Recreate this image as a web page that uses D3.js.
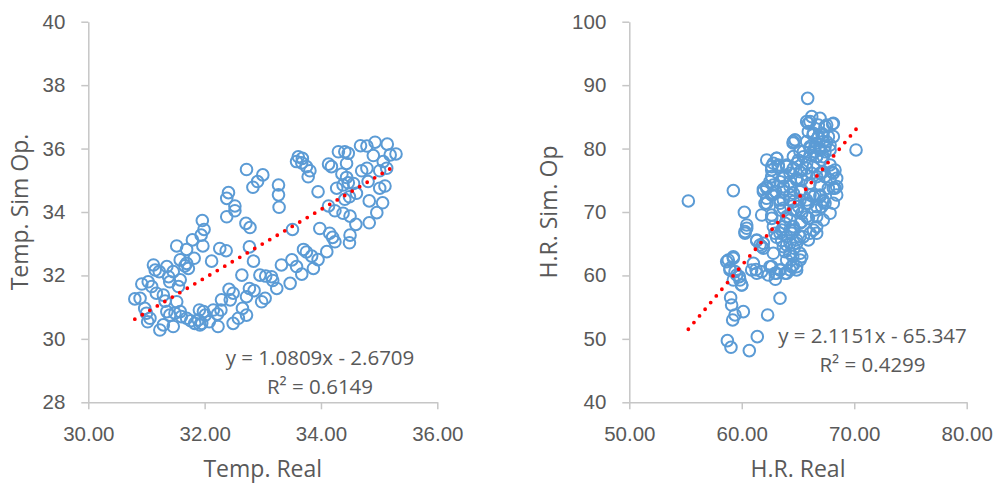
<!DOCTYPE html>
<html>
<head>
<meta charset="utf-8">
<script src="https://cdn.jsdelivr.net/npm/d3@7"></script>
<style>
  html, body { margin: 0; padding: 0; background: #fff; }
  svg { display: block; font-family: "Open Sans", sans-serif; }
  .tick text { fill: #595959; font-size: 20.5px; }
  .axis line, .axis path { stroke: #c6c6c6; stroke-width: 1.5px; }
  .title { fill: #595959; font-size: 23px; }
  .eq { fill: #595959; font-size: 20.5px; }
</style>
</head>
<body>
<svg id="chart" width="993" height="485"></svg>
<script>
// Temperature: measured vs. simulated (°C)
const tempReal = [30.80,30.89,30.92,31.03,31.09,31.12,31.15,31.22,31.35,31.38,31.46,31.40,31.58,31.55,31.52,31.69,31.72,31.66,31.79,31.82,
  31.17,31.29,31.32,31.52,30.97,31.00,31.06,31.02,31.23,31.29,31.46,31.40,31.35,31.58,31.49,31.60,31.69,31.76,31.83,31.89,
  31.95,31.92,32.01,31.91,31.98,32.15,32.22,32.28,32.23,32.08,32.29,32.44,32.49,32.42,32.49,32.58,32.72,32.65,32.72,32.77,
  32.85,32.64,32.98,33.04,32.95,33.05,33.15,33.17,33.24,33.47,33.32,33.50,33.58,33.67,33.70,33.75,33.84,33.87,33.95,33.98,
  34.10,34.15,34.20,34.24,34.50,34.49,34.60,34.83,34.96,34.83,35.06,35.01,35.10,34.81,34.50,34.38,34.24,34.13,33.95,34.27,
  34.38,34.47,34.56,34.61,34.49,34.41,34.36,34.44,34.70,34.79,34.13,34.18,34.30,34.41,34.47,34.68,34.79,34.93,35.14,35.29,
  35.19,34.90,35.07,35.13,35.01,33.61,33.68,33.58,33.67,33.75,33.78,33.81,33.27,33.27,33.28,32.72,33.00,32.91,32.83,32.41,
  32.38,32.52,32.52,32.38,32.71,32.78,32.77,32.84,32.26,32.37,32.12,31.96,31.99,31.94,31.97,31.69,31.58,34.44,33.51];
const tempSim = [31.26,31.28,31.73,31.80,31.65,32.33,32.17,32.12,32.28,31.96,32.12,31.80,31.86,31.65,32.93,32.38,32.22,32.30,33.12,32.54,
  31.44,31.38,31.19,31.17,30.96,30.81,30.65,30.54,30.28,30.44,30.39,30.75,30.86,30.86,30.81,30.70,30.65,30.57,30.49,30.60,
  30.49,30.44,30.75,30.91,30.86,30.91,30.78,30.91,30.39,30.54,31.23,31.23,31.44,31.56,30.49,30.65,30.75,30.96,31.33,31.59,
  31.52,32.01,31.17,31.28,32.01,31.98,31.96,31.84,31.59,31.75,32.33,32.49,32.28,32.04,32.82,32.74,32.61,32.22,32.50,33.48,
  32.75,33.33,33.20,33.06,33.27,33.03,33.61,33.66,33.98,34.35,34.29,34.75,34.82,34.96,33.87,33.96,34.04,34.19,34.64,34.75,
  34.85,34.92,34.90,34.59,34.48,34.40,35.20,35.09,35.30,35.38,35.51,35.43,35.90,35.90,35.85,36.09,36.08,36.20,36.14,35.83,
  35.80,35.78,35.59,35.38,35.30,35.74,35.69,35.59,35.55,35.43,35.11,35.30,34.85,34.54,34.15,35.34,35.17,34.96,34.78,34.61,
  34.43,34.19,34.04,33.85,33.64,33.51,32.90,32.45,32.85,32.78,32.45,33.73,33.45,33.27,32.93,32.82,32.49,35.53,33.45];

// Relative humidity: measured vs. simulated (%)
const hrReal = [55.25,59.25,60.23,60.44,60.29,61.33,61.77,61.92,61.77,62.07,62.22,61.92,62.22,62.51,62.66,63.10,62.81,63.25,63.00,63.70,
  63.40,63.70,62.66,62.81,62.96,63.10,63.55,63.99,63.85,64.29,63.99,64.65,58.66,59.25,58.95,59.40,59.78,60.00,61.03,61.27,
  62.36,62.66,63.10,62.99,63.40,63.99,64.44,64.88,63.40,59.01,59.10,59.40,59.19,60.14,62.30,61.38,58.72,59.04,60.67,70.16,
  65.86,66.22,65.92,66.96,68.08,67.40,66.37,66.81,67.11,67.70,64.59,64.74,65.77,66.51,66.96,67.40,66.07,66.66,67.25,64.59,
  64.88,65.33,63.99,64.29,64.88,65.77,66.37,67.85,68.14,67.85,68.29,67.70,66.96,66.07,65.33,64.59,64.29,66.96,67.40,66.66,
  65.92,65.18,64.59,65.33,65.92,66.66,65.33,64.59,66.37,66.66,65.92,65.18,64.44,64.88,65.33,65.18,64.88,64.29,63.99,63.85,
  66.96,67.40,68.44,65.48,66.07,66.66,67.25,65.77,65.33,66.51,65.04,64.29,63.70,63.55,64.53,62.66,65.92,67.85,68.14,66.81,68.29,
  68.14,67.55,66.07,65.77,64.73,64.56,66.34,66.78,67.23,67.55,67.85,66.07,66.51,66.96,67.40,66.66,67.10,65.18,65.48,65.03,
  63.11,62.66,63.25,64.00,64.59,65.18,65.77,66.22,66.66,67.25,67.99,68.44,63.70,64.29,64.88,63.40,62.81,62.22,61.92,62.66,
  63.70,64.29,65.18,66.07,66.96,68.14,68.44,62.22,63.40,64.59,65.77,67.25,60.44,60.29,61.33,61.62,61.92,58.80,59.25,58.95,
  59.55,59.84,59.99,59.25,60.88,61.33,61.77,62.51,62.96,63.40,63.85,64.29,64.59,65.18,62.81,63.70,64.29,64.88,65.48,66.07,
  66.66,67.25,67.85,68.14,67.25,66.36,65.77,64.88,64.29,63.70,63.40,64.00,64.58,65.18,65.77,66.51,67.11,62.81,63.70,62.22,
  63.40,62.66];
const hrSim = [71.74,73.37,69.95,67.43,66.64,65.49,64.54,65.07,69.53,71.37,78.20,73.58,74.00,74.79,75.58,78.47,77.68,77.15,73.21,74.00,
  71.37,70.58,69.00,67.69,66.64,66.01,67.17,64.80,63.75,63.49,62.44,64.28,62.18,62.70,61.12,60.60,59.81,58.50,61.91,60.91,
  60.07,61.39,60.34,59.39,60.86,60.34,61.39,60.86,56.40,56.50,55.34,53.77,52.98,54.29,53.77,50.35,49.72,48.67,48.15,79.78,
  87.92,85.03,83.98,84.77,83.88,83.46,82.41,81.88,82.41,81.88,81.09,81.36,81.09,80.30,79.78,80.30,78.99,78.73,78.73,78.73,
  77.68,76.63,77.15,76.10,75.05,75.84,77.15,77.42,76.10,75.05,73.74,73.74,74.26,74.53,73.47,72.95,74.00,72.42,71.37,70.85,
  71.37,71.90,70.32,69.79,69.00,69.27,68.48,67.69,67.17,66.64,65.59,66.12,66.64,65.07,62.96,63.49,61.39,67.17,69.27,68.22,
  76.10,75.58,74.00,79.52,80.30,80.83,81.09,77.68,75.05,72.69,70.85,71.90,75.31,65.49,62.96,76.63,82.67,79.78,81.88,83.72,76.63,
  83.99,83.72,84.24,84.24,81.35,80.87,82.14,81.67,82.14,81.08,80.56,80.04,79.51,80.04,79.51,78.72,78.20,79.51,78.72,78.20,
  78.47,77.15,77.41,77.41,76.89,76.35,76.89,76.10,75.57,76.35,76.35,75.31,75.57,74.78,75.31,74.78,74.26,73.74,73.20,72.68,
  73.20,72.68,73.20,72.68,72.68,73.74,72.68,72.16,71.89,71.63,71.89,71.63,67.95,66.90,65.59,64.80,64.28,62.43,62.95,60.86,
  60.07,59.28,58.49,59.28,60.86,60.34,60.59,61.38,60.34,60.86,60.34,60.86,61.65,62.44,63.49,64.53,65.07,65.59,66.11,66.64,
  67.68,68.74,69.80,71.37,71.89,72.41,71.37,70.32,68.74,67.68,66.64,66.11,67.16,68.22,69.26,70.32,70.84,72.95,71.89,71.37,
  70.32,69.53];

// Linear fit coefficients and goodness of fit, as printed on each panel
const tempFit = { slope: 1.0809, intercept: -2.6709, r2: 0.6149 };
const hrFit = { slope: 2.1151, intercept: -65.347, r2: 0.4299 };

const tempXTicks = [30, 32, 34, 36];
const tempYTicks = [28, 30, 32, 34, 36, 38, 40];
const hrXTicks = [50, 60, 70, 80];
const hrYTicks = [40, 50, 60, 70, 80, 90, 100];

const svg = d3.select("#chart");

function fmtEq(fit) {
  const sign = fit.intercept < 0 ? " - " : " + ";
  return "y = " + fit.slope.toFixed(4) + "x" + sign + String(Math.abs(fit.intercept));
}

function panel(cfg) {
  const x = d3.scaleLinear().domain(cfg.xDomain).range([cfg.left, cfg.right]);
  const y = d3.scaleLinear().domain(cfg.yDomain).range([cfg.bottom, cfg.top]);
  const g = svg.append("g");

  g.append("g").attr("class", "axis")
    .attr("transform", `translate(0,${cfg.bottom})`)
    .call(d3.axisBottom(x).tickValues(cfg.xTicks).tickFormat(d3.format(".2f"))
      .tickSize(7).tickSizeOuter(0).tickPadding(17.4));

  g.append("g").attr("class", "axis")
    .attr("transform", `translate(${cfg.left},0)`)
    .call(d3.axisLeft(y).tickValues(cfg.yTicks).tickFormat(d3.format("d"))
      .tickSize(7).tickSizeOuter(0).tickPadding(16));

  // data markers: hollow circles
  g.append("g").selectAll("circle")
    .data(cfg.xs.map((v, i) => [v, cfg.ys[i]]))
    .join("circle")
    .attr("cx", d => x(d[0]))
    .attr("cy", d => y(d[1]))
    .attr("r", 5.8)
    .attr("fill", "none")
    .attr("stroke", "#5b9bd5")
    .attr("stroke-width", 2);

  // linear trendline over the span of the data
  const [x0, x1] = d3.extent(cfg.xs);
  const f = v => cfg.fit.slope * v + cfg.fit.intercept;
  g.append("line")
    .attr("x1", x(x0)).attr("y1", y(f(x0)))
    .attr("x2", x(x1)).attr("y2", y(f(x1)))
    .attr("stroke", "#ff0000")
    .attr("stroke-width", 3.8)
    .attr("stroke-linecap", "round")
    .attr("stroke-dasharray", "0 8.7");

  g.append("text").attr("class", "eq")
    .attr("x", cfg.eqX).attr("y", cfg.eqY)
    .attr("text-anchor", "middle")
    .text(fmtEq(cfg.fit));
  g.append("text").attr("class", "eq")
    .attr("x", cfg.eqX).attr("y", cfg.eqY + 29.5)
    .attr("text-anchor", "middle")
    .text("R² = " + cfg.fit.r2.toFixed(4));

  g.append("text").attr("class", "title")
    .attr("x", (cfg.left + cfg.right) / 2).attr("y", 477)
    .attr("text-anchor", "middle")
    .text(cfg.xTitle);
  g.append("text").attr("class", "title")
    .attr("transform", `translate(${cfg.yTitleX},${(cfg.top + cfg.bottom) / 2}) rotate(-90)`)
    .attr("text-anchor", "middle")
    .text(cfg.yTitle);
}

panel({
  xs: tempReal, ys: tempSim, fit: tempFit,
  xDomain: [30, 36], yDomain: [28, 40], xTicks: tempXTicks, yTicks: tempYTicks,
  left: 88.3, right: 437.3, top: 21.7, bottom: 402.3,
  eqX: 320, eqY: 364.5, xTitle: "Temp. Real", yTitle: "Temp. Sim Op.", yTitleX: 27.5
});

panel({
  xs: hrReal, ys: hrSim, fit: hrFit,
  xDomain: [50, 80], yDomain: [40, 100], xTicks: hrXTicks, yTicks: hrYTicks,
  left: 629.3, right: 966.7, top: 21.7, bottom: 402.3,
  eqX: 872.5, eqY: 342.7, xTitle: "H.R. Real", yTitle: "H.R. Sim. Op", yTitleX: 557
});
</script>
</body>
</html>
